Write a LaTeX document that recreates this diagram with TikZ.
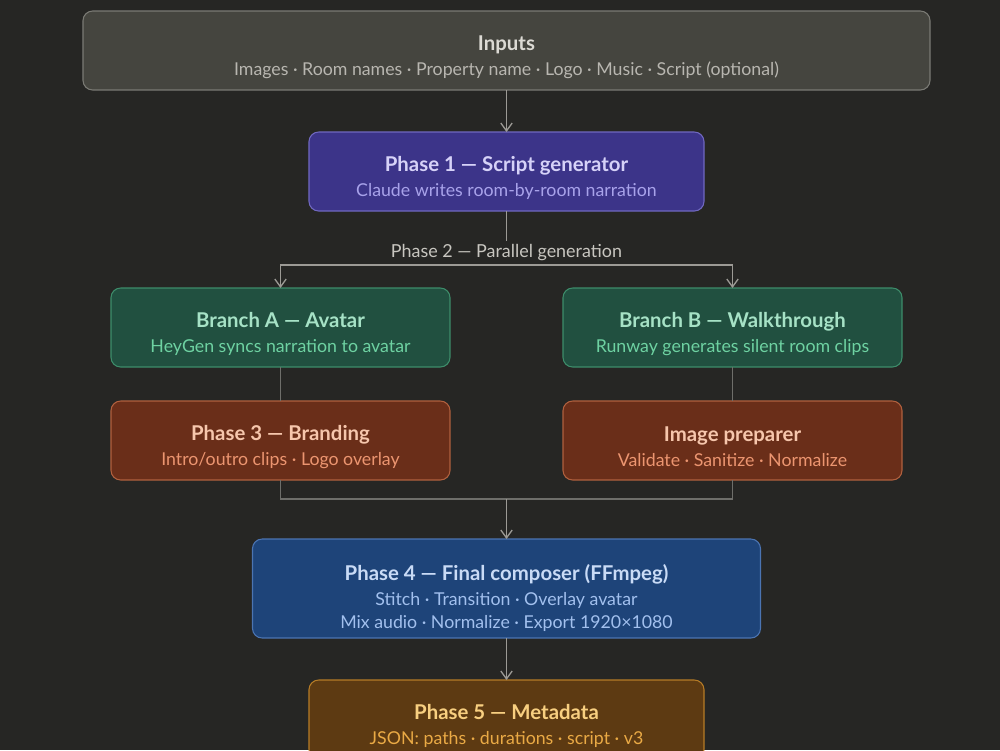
\documentclass[tikz,border=0pt]{standalone}
\usepackage{fontspec}
\setmainfont{Lato}
\usepackage{xcolor}
\usetikzlibrary{arrows.meta, positioning, calc}

\definecolor{bgcol}{HTML}{262624}
\definecolor{inpfill}{HTML}{45453F}
\definecolor{inpdraw}{HTML}{7A7A74}
\definecolor{inpttl}{HTML}{DCDAD4}
\definecolor{inpsub}{HTML}{B8B6B0}
\definecolor{scrfill}{HTML}{3C3489}
\definecolor{scrdraw}{HTML}{7068C0}
\definecolor{scrttl}{HTML}{D6D2F8}
\definecolor{scrsub}{HTML}{A8A2EA}
\definecolor{brnfill}{HTML}{215040}
\definecolor{brndraw}{HTML}{3D8C6A}
\definecolor{brnttl}{HTML}{A6E2C6}
\definecolor{brnsub}{HTML}{6ED2A2}
\definecolor{brdfill}{HTML}{6A2E19}
\definecolor{brddraw}{HTML}{B0603E}
\definecolor{brdttl}{HTML}{F6C6AC}
\definecolor{brdsub}{HTML}{EC9570}
\definecolor{cmpfill}{HTML}{1E4479}
\definecolor{cmpdraw}{HTML}{4B74B2}
\definecolor{cmpttl}{HTML}{C9DBF6}
\definecolor{cmpsub}{HTML}{A2C0EE}
\definecolor{metfill}{HTML}{5D3A12}
\definecolor{metdraw}{HTML}{B57B26}
\definecolor{metttl}{HTML}{F8CF80}
\definecolor{metsub}{HTML}{EAAA45}
\definecolor{arrcol}{HTML}{9C9A95}
\definecolor{lincol}{HTML}{6E6E6A}
\definecolor{lblcol}{HTML}{C8C6C0}

\newcommand{\boxttl}[2][15.8pt]{\rule{0pt}{#1}#2}
\newcommand{\boxsub}[2]{{\fontsize{10.1}{12.4}\selectfont\mdseries\color{#1}#2}}

\begin{document}
\begin{tikzpicture}[
  box/.style={draw, rounded corners=5.5pt, align=center, line width=0.6pt,
              font=\fontsize{11.6}{14.2}\selectfont\bfseries,
              minimum width=6.78cm, minimum height=1.58cm, inner sep=4pt, outer sep=0pt},
  inp/.style={fill=inpfill, draw=inpdraw, text=inpttl},
  scr/.style={fill=scrfill, draw=scrdraw, text=scrttl},
  brn/.style={fill=brnfill, draw=brndraw, text=brnttl},
  brd/.style={fill=brdfill, draw=brddraw, text=brdttl},
  cmp/.style={fill=cmpfill, draw=cmpdraw, text=cmpttl},
  met/.style={fill=metfill, draw=metdraw, text=metttl},
  arr/.style={-{Straight Barb[length=4.5pt, width=6.5pt]}, draw=arrcol, line width=0.75pt},
  line/.style={draw=lincol, line width=0.75pt},
  lbl/.style={font=\fontsize{10.2}{12}\selectfont, text=lblcol, inner sep=2pt},
]
  \fill[bgcol, use as bounding box] (-10.13,1.01) rectangle (9.87,-13.99);

  \node[box, inp, minimum width=16.94cm] (inputs)
        {\boxttl{Inputs}\\\boxsub{inpsub}{Images · Room names · Property name · Logo · Music · Script (optional)}};
  \node[box, scr, minimum width=7.9cm, below=0.84cm of inputs] (script)
        {\boxttl{Phase 1 — Script generator}\\\boxsub{scrsub}{Claude writes room-by-room narration}};

  \coordinate[below=1.08cm of script] (split);
  \node[lbl, above=0pt of split] (parallel) {Phase 2 — Parallel generation};

  \node[box, brn, below=1.54cm of script, xshift=-4.52cm] (avatar)
        {\boxttl{Branch A — Avatar}\\\boxsub{brnsub}{HeyGen syncs narration to avatar}};
  \node[box, brn, below=1.54cm of script, xshift=4.52cm] (walk)
        {\boxttl{Branch B — Walkthrough}\\\boxsub{brnsub}{Runway generates silent room clips}};

  \node[box, brd, below=0.68cm of avatar] (brand)
        {\boxttl{Phase 3 — Branding}\\\boxsub{brdsub}{Intro/outro clips · Logo overlay}};
  \node[box, brd, below=0.68cm of walk] (prep)
        {\boxttl{Image preparer}\\\boxsub{brdsub}{Validate · Sanitize · Normalize}};

  \node[box, cmp, minimum width=10.16cm, minimum height=1.98cm, inner ysep=1pt,
        below=1.18cm of brand, xshift=4.52cm] (compose)
        {\boxttl[20pt]{Phase 4 — Final composer (FFmpeg)}\\\boxsub{cmpsub}{Stitch · Transition · Overlay avatar}\\[-0.7pt]
         \boxsub{cmpsub}{Mix audio · Normalize · Export 1920×1080}};
  \node[box, met, minimum width=7.9cm, below=0.84cm of compose] (meta)
        {\boxttl{Phase 5 — Metadata}\\\boxsub{metsub}{JSON: paths · durations · script · v3}};

  \coordinate[above=0.8cm of compose] (join);

  \draw[arr] (inputs) -- (script);
  \draw[line, draw=arrcol] (script) -- (parallel);
  \draw[arr] (split) -| (avatar);
  \draw[arr] (split) -| (walk);
  \draw[line] (avatar) -- (brand);
  \draw[line] (walk) -- (prep);
  \draw[line] (brand) |- (join) -| (prep);
  \draw[arr] (join) -- (compose);
  \draw[arr] (compose) -- (meta);
\end{tikzpicture}
\end{document}
